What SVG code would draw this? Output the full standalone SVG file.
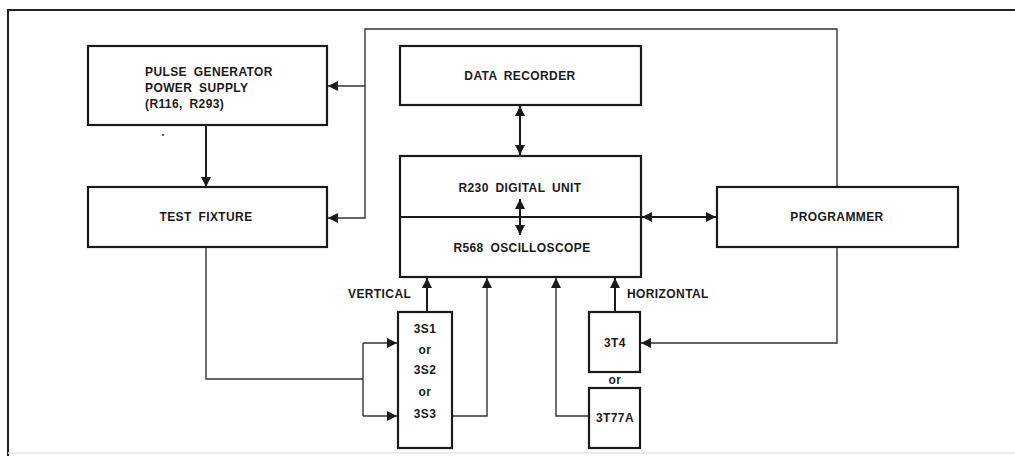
<svg xmlns="http://www.w3.org/2000/svg" width="1015" height="459" viewBox="0 0 1015 459">
<defs>
<marker id="arr" viewBox="0 0 10 10" refX="10" refY="5" markerWidth="10" markerHeight="10" markerUnits="userSpaceOnUse" orient="auto"><path d="M0,0 L10,5 L0,10 z" fill="#1a1a1a"/></marker>
<marker id="arrs" viewBox="0 0 10 10" refX="10" refY="5" markerWidth="10" markerHeight="10" markerUnits="userSpaceOnUse" orient="auto-start-reverse"><path d="M0,0 L10,5 L0,10 z" fill="#1a1a1a"/></marker>
</defs>
<style>
.box{fill:#fff;stroke:#1a1a1a;stroke-width:2.2}
.t{font-family:"Liberation Sans",Arial,sans-serif;font-weight:bold;font-size:12px;fill:#1a1a1a;letter-spacing:0.4px;word-spacing:3px}
.m{text-anchor:middle}
.c{fill:none;stroke:#1a1a1a;stroke-width:2}
.thin{fill:none;stroke:#333;stroke-width:1.4}
.fr{fill:none;stroke:#222;stroke-width:2}
</style>
<rect width="1015" height="459" fill="#fff"/>
<g id="frame">
<path class="fr" d="M8,456 V10 H1015"/>
<path d="M8,453 H1015" stroke="#e6e6e6" stroke-width="1.5" fill="none"/>
</g>
<g id="pulse-generator">
<rect class="box" x="88" y="46" width="239" height="79"/>
<text class="t" x="145" y="76">PULSE GENERATOR</text>
<text class="t" x="145" y="92">POWER SUPPLY</text>
<text class="t" x="145" y="108">(R116, R293)</text>
</g>
<circle cx="163" cy="135" r="1" fill="#333"/>
<g id="test-fixture">
<rect class="box" x="88" y="187" width="239" height="60"/>
<text class="t m" x="206" y="221">TEST FIXTURE</text>
</g>
<g id="data-recorder">
<rect class="box" x="400" y="46" width="241" height="59"/>
<text class="t m" x="520" y="80">DATA RECORDER</text>
</g>
<g id="r230-r568">
<rect class="box" x="400" y="156" width="241" height="121"/>
<line x1="400" y1="217" x2="641" y2="217" stroke="#1a1a1a" stroke-width="2"/>
<text class="t m" x="520" y="192">R230 DIGITAL UNIT</text>
<text class="t m" x="522" y="252">R568 OSCILLOSCOPE</text>
</g>
<g id="programmer">
<rect class="box" x="717" y="187" width="241" height="60"/>
<text class="t m" x="837" y="221">PROGRAMMER</text>
</g>
<g id="plugin-3s">
<rect class="box" x="398" y="312" width="54" height="136"/>
<text class="t m" x="425" y="333">3S1</text>
<text class="t m" x="425" y="354">or</text>
<text class="t m" x="425" y="374">3S2</text>
<text class="t m" x="425" y="396">or</text>
<text class="t m" x="425" y="418">3S3</text>
</g>
<g id="plugin-3t4">
<rect class="box" x="589" y="312" width="51" height="60"/>
<text class="t m" x="615" y="347">3T4</text>
</g>
<text class="t m" x="615" y="384">or</text>
<g id="plugin-3t77a">
<rect class="box" x="589" y="388" width="51" height="60"/>
<text class="t m" x="615" y="422">3T77A</text>
</g>
<g id="labels">
<text class="t" x="348" y="298">VERTICAL</text>
<text class="t" x="627" y="298">HORIZONTAL</text>
</g>
<g id="connectors">
<path class="c" d="M206,126 V187" marker-end="url(#arr)"/>
<path class="thin" d="M837,186 V29 H365 V218 H328" marker-end="url(#arr)"/>
<path class="thin" d="M365,86 H328" marker-end="url(#arr)"/>
<path class="c" d="M520,106 V155" marker-start="url(#arrs)" marker-end="url(#arrs)"/>
<path class="c" d="M520,199 V235" marker-start="url(#arrs)" marker-end="url(#arrs)"/>
<path class="c" d="M642,217 H716" marker-start="url(#arrs)" marker-end="url(#arrs)"/>
<path class="thin" d="M837,248 V343 H641" marker-end="url(#arr)"/>
<path class="c" d="M615,311 V278" marker-end="url(#arr)"/>
<path class="thin" d="M588,416 H556 V278" marker-end="url(#arr)"/>
<path class="c" d="M427,311 V278" marker-end="url(#arr)"/>
<path class="thin" d="M453,416 H487 V278" marker-end="url(#arr)"/>
<path class="thin" d="M206,248 V379 H363"/>
<path class="thin" d="M363,343 V416"/>
<path class="thin" d="M363,343 H397" marker-end="url(#arr)"/>
<path class="thin" d="M363,416 H397" marker-end="url(#arr)"/>
</g>
</svg>
